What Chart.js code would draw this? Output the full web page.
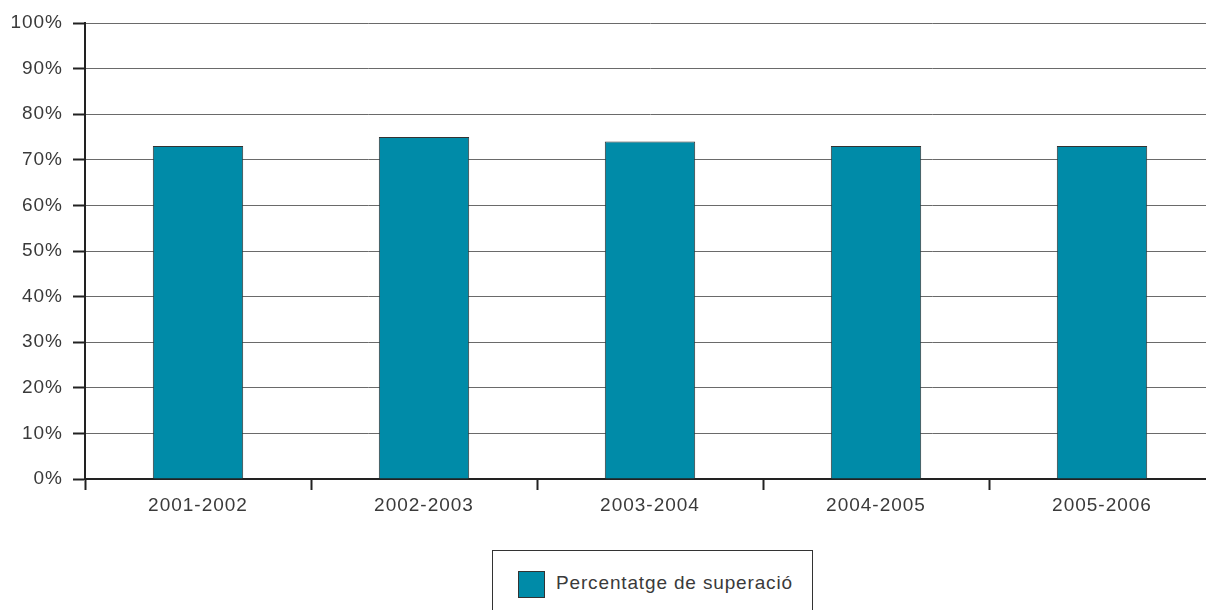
<!DOCTYPE html>
<html>
<head>
<meta charset="utf-8">
<script src="https://cdn.jsdelivr.net/npm/chart.js@4"></script>
<style>
    html, body { margin: 0; padding: 0; background: #fff; overflow: hidden; }
    #wrap { position: relative; width: 1206px; height: 610px; overflow: hidden; }
    #box { position: absolute; left: 0; top: 0; width: 1216px; height: 540px; }
    #legend {
        position: absolute; left: 492px; top: 550px; width: 321px; height: 70px;
        border: 1px solid #333; box-sizing: border-box;
        font-family: "Liberation Sans", Arial, sans-serif; font-size: 19px; color: #3a3a3a;
        letter-spacing: 0.85px;
    }
    #legend .swatch {
        position: absolute; left: 25px; top: 20px; width: 25px; height: 25px;
        background: #008ba8; border: 1px solid #333;
    }
    #legend .label { position: absolute; left: 63px; top: 21px; }
</style>
</head>
<body>
<div id="wrap">
    <div id="box"><canvas id="chart"></canvas></div>
    <div id="legend"><span class="swatch"></span><span class="label" id="legendLabel"></span></div>
</div>
<script>
const categories = ["2001-2002", "2002-2003", "2003-2004", "2004-2005", "2005-2006"];
const seriesName = "Percentatge de superació";
const seriesValues = [73, 75, 74, 73, 73];
const yTicks = [0, 10, 20, 30, 40, 50, 60, 70, 80, 90, 100];

document.getElementById("legendLabel").textContent = seriesName;

const fontFamily = "'Liberation Sans', Arial, sans-serif";

// the source uses a light, slightly tracked grotesque
const trackingPlugin = {
    id: "tracking",
    beforeDraw(chart) {
        chart.ctx.letterSpacing = "1px";
    },
};

new Chart(document.getElementById("chart").getContext("2d"), {
    type: "bar",
    data: {
        labels: categories,
        datasets: [{
            label: seriesName,
            data: seriesValues,
            backgroundColor: "#008ba8",
            borderColor: "#333333",
            borderWidth: 1,
            barPercentage: 0.4,
            categoryPercentage: 1,
        }],
    },
    options: {
        responsive: true,
        maintainAspectRatio: false,
        animation: false,
        layout: { padding: { top: 23, left: 0, right: 1, bottom: 0 } },
        plugins: {
            legend: { display: false },
            tooltip: { enabled: false },
        },
        scales: {
            x: {
                afterFit(scale) { scale.height = 61; },
                grid: {
                    drawOnChartArea: false,
                    drawTicks: true,
                    tickLength: 11,
                    tickColor: "#222",
                    tickWidth: 2,
                    offset: true,
                },
                border: { color: "#222", width: 2 },
                ticks: {
                    padding: 4,
                    color: "#3a3a3a",
                    font: { family: fontFamily, size: 19 },
                },
            },
            y: {
                min: 0,
                max: 100,
                afterFit(scale) { scale.width = 85; },
                afterBuildTicks(scale) { scale.ticks = yTicks.map((value) => ({ value })); },
                grid: {
                    color: "#6a6a6a",
                    lineWidth: 1,
                    drawTicks: true,
                    tickLength: 12,
                    tickColor: "#222",
                    tickWidth: 2,
                },
                border: { color: "#222", width: 2 },
                ticks: {
                    padding: 10,
                    color: "#3a3a3a",
                    font: { family: fontFamily, size: 19 },
                    callback: (value) => `${value}%`,
                },
            },
        },
    },
    plugins: [trackingPlugin],
});
</script>
</body>
</html>
